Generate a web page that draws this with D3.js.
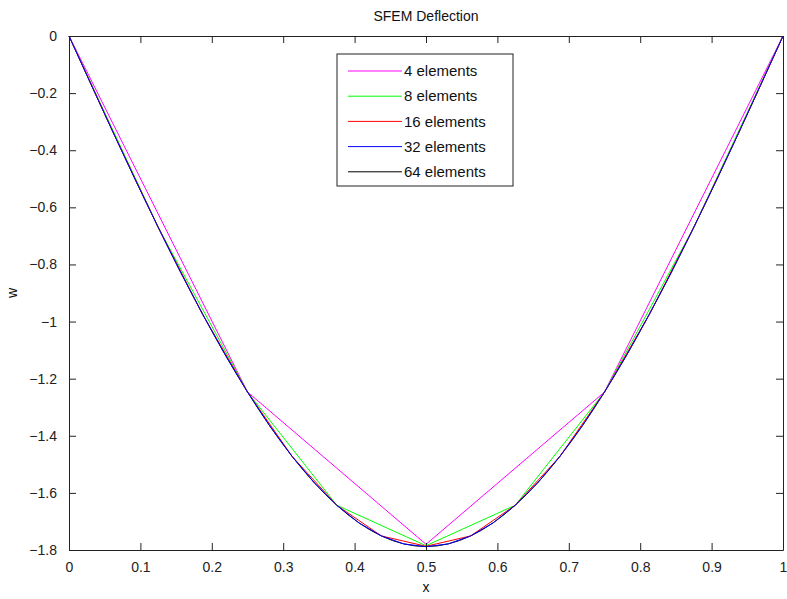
<!DOCTYPE html>
<html>
<head>
<meta charset="utf-8">
<script src="https://cdn.jsdelivr.net/npm/d3@7"></script>
<style>
  body { margin: 0; background: #fff; }
  svg { display: block; font-family: "Liberation Sans", Arial, sans-serif; }
</style>
</head>
<body>
<svg id="chart"></svg>
<script>
// nodal deflections, one array per mesh
const w4 = [0, -1.2468, -1.780, -1.2468, 0];
const w8 = [0, -0.6704, -1.2468, -1.6432, -1.785, -1.6432, -1.2468, -0.6704, 0];
const w16 = [0, -0.3412, -0.6704, -0.9760, -1.2468, -1.4723, -1.6432, -1.7507, -1.787,
  -1.7507, -1.6432, -1.4723, -1.2468, -0.9760, -0.6704, -0.3412, 0];
const w32 = [0, -0.1713, -0.3412, -0.5080, -0.6704, -0.8269, -0.9760, -1.1164, -1.2468,
  -1.3658, -1.4723, -1.5651, -1.6432, -1.7053, -1.7507, -1.7786, -1.7885,
  -1.7786, -1.7507, -1.7053, -1.6432, -1.5651, -1.4723, -1.3658, -1.2468,
  -1.1164, -0.9760, -0.8269, -0.6704, -0.5080, -0.3412, -0.1713, 0];
const w64 = [0, -0.0858, -0.1713, -0.2565, -0.3412, -0.4250, -0.5080, -0.5898, -0.6704,
  -0.7494, -0.8269, -0.9024, -0.9760, -1.0474, -1.1164, -1.1829, -1.2468,
  -1.3078, -1.3658, -1.4207, -1.4723, -1.5205, -1.5651, -1.6060, -1.6432,
  -1.6763, -1.7053, -1.7302, -1.7507, -1.7669, -1.7786, -1.7856, -1.7880,
  -1.7856, -1.7786, -1.7669, -1.7507, -1.7302, -1.7053, -1.6763, -1.6432,
  -1.6060, -1.5651, -1.5205, -1.4723, -1.4207, -1.3658, -1.3078, -1.2468,
  -1.1829, -1.1164, -1.0474, -0.9760, -0.9024, -0.8269, -0.7494, -0.6704,
  -0.5898, -0.5080, -0.4250, -0.3412, -0.2565, -0.1713, -0.0858, 0];

const seriesNames = ["4 elements", "8 elements", "16 elements", "32 elements", "64 elements"];
const seriesColors = ["#ff00ff", "#00ff00", "#ff0000", "#0000ff", "#000000"];
const xTicks = [0, 0.1, 0.2, 0.3, 0.4, 0.5, 0.6, 0.7, 0.8, 0.9, 1];
const yTicks = [0, -0.2, -0.4, -0.6, -0.8, -1, -1.2, -1.4, -1.6, -1.8];

const width = 787, height = 599;
const margin = { top: 36, right: 4, bottom: 49, left: 69 };

const svg = d3.select("#chart")
    .attr("width", width)
    .attr("height", height);

const x = d3.scaleLinear().domain([0, 1]).range([margin.left, width - margin.right]);
const y = d3.scaleLinear().domain([-1.8, 0]).range([height - margin.bottom, margin.top]);

// each mesh: nodes evenly spaced on [0,1]
const series = [w4, w8, w16, w32, w64].map((vals, k) => ({
    name: seriesNames[k],
    color: seriesColors[k],
    values: vals.map((v, i) => ({ x: i / (vals.length - 1), w: v }))
}));

const line = d3.line().x(d => x(d.x)).y(d => y(d.w));

// black first so blue sits on top as in the original
const drawOrder = [4, 0, 1, 2, 3];
svg.append("g")
    .selectAll("path")
    .data(drawOrder.map(i => series[i]))
    .join("path")
    .attr("fill", "none")
    .attr("stroke", d => d.color)
    .attr("stroke-width", 1)
    .attr("d", d => line(d.values));

// axes with inward ticks, boxed like matlab
const tickLen = 7;
const fmt = d => (d === 0 ? "0" : d3.format("")(+d.toFixed(1)));

const axStyle = g => {
    g.selectAll(".domain").attr("stroke", "#222");
    g.selectAll(".tick line").attr("stroke", "#222");
    g.selectAll(".tick text").attr("fill", "#222").style("font-size", "14px");
};

svg.append("g")
    .attr("transform", `translate(0,${y(-1.8)})`)
    .call(d3.axisBottom(x).tickValues(xTicks).tickSizeInner(-tickLen).tickSizeOuter(0).tickPadding(12).tickFormat(fmt))
    .call(axStyle);

svg.append("g")
    .attr("transform", `translate(0,${y(0)})`)
    .call(d3.axisTop(x).tickValues(xTicks).tickSizeInner(-tickLen).tickSizeOuter(0).tickFormat(""))
    .call(axStyle);

svg.append("g")
    .attr("transform", `translate(${x(0)},0)`)
    .call(d3.axisLeft(y).tickValues(yTicks).tickSizeInner(-tickLen).tickSizeOuter(0).tickPadding(12).tickFormat(fmt))
    .call(axStyle);

svg.append("g")
    .attr("transform", `translate(${x(1)},0)`)
    .call(d3.axisRight(y).tickValues(yTicks).tickSizeInner(-tickLen).tickSizeOuter(0).tickFormat(""))
    .call(axStyle);

// title and axis labels
svg.append("text")
    .attr("x", (x(0) + x(1)) / 2)
    .attr("y", 21)
    .attr("text-anchor", "middle")
    .style("font-size", "14px")
    .attr("fill", "#111")
    .text("SFEM Deflection");

svg.append("text")
    .attr("x", (x(0) + x(1)) / 2)
    .attr("y", 592)
    .attr("text-anchor", "middle")
    .style("font-size", "14px")
    .attr("fill", "#111")
    .text("x");

svg.append("text")
    .attr("transform", `translate(17,${(y(0) + y(-1.8)) / 2}) rotate(-90)`)
    .attr("text-anchor", "middle")
    .style("font-size", "14px")
    .attr("fill", "#111")
    .text("w");

// legend
const legend = svg.append("g").attr("transform", "translate(337,54)");
legend.append("rect")
    .attr("width", 176)
    .attr("height", 132)
    .attr("fill", "#fff")
    .attr("stroke", "#222");

const item = legend.selectAll("g.item")
    .data(series)
    .join("g")
    .attr("class", "item")
    .attr("transform", (d, i) => `translate(0,${17 + i * 25.2})`);

item.append("line")
    .attr("x1", 11).attr("x2", 65)
    .attr("stroke", d => d.color)
    .attr("stroke-width", 1);

item.append("text")
    .attr("x", 67)
    .attr("dy", "0.35em")
    .style("font-size", "15px")
    .attr("fill", "#111")
    .text(d => d.name);
</script>
</body>
</html>
